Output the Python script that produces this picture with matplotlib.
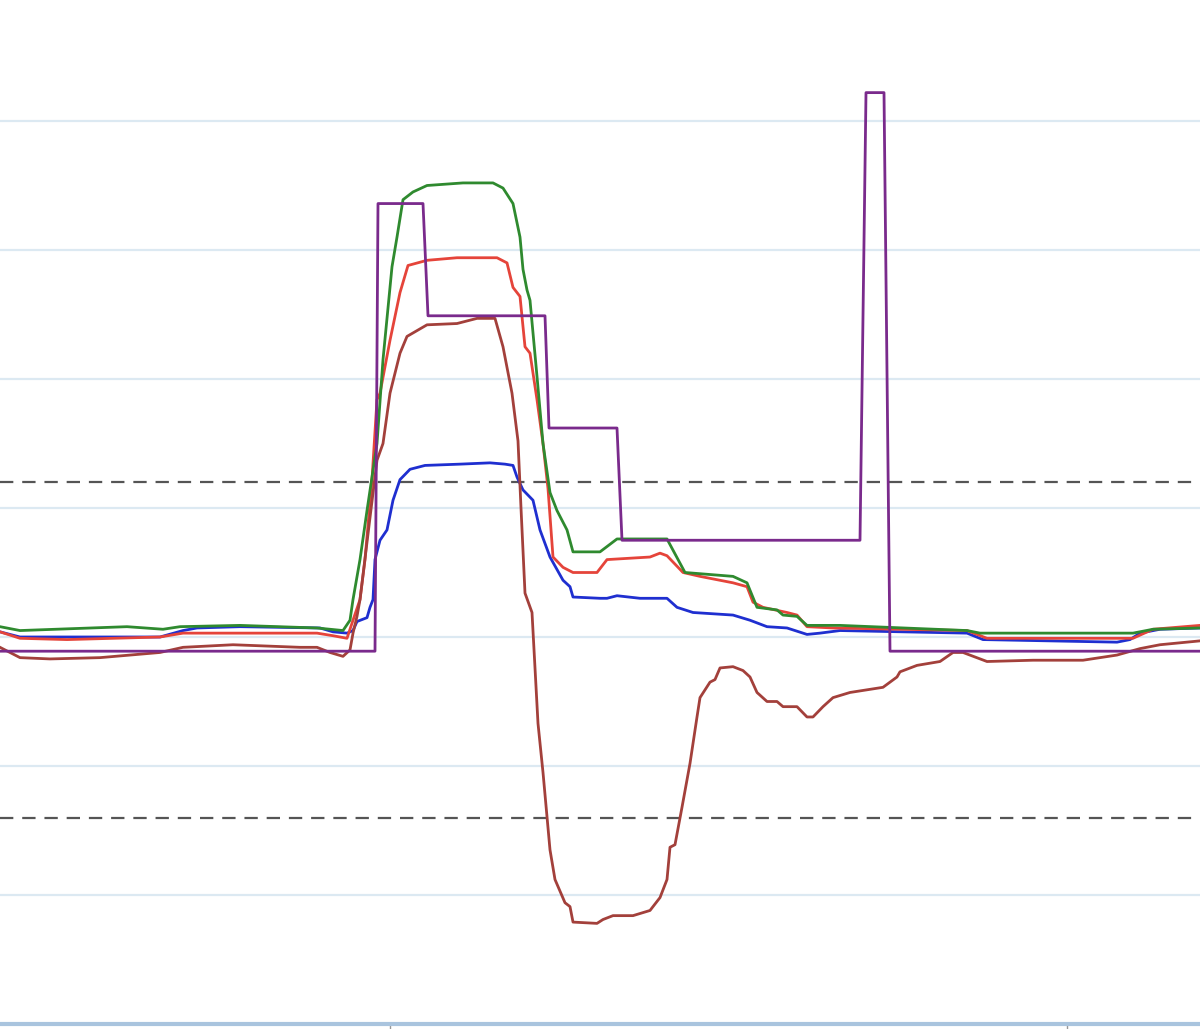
import matplotlib
matplotlib.use("Agg")
import matplotlib.pyplot as plt

# ---- data (time index, signal value in grid units) ----
green_x = [0, 20, 127, 163, 180, 240, 317, 343, 350, 353, 360, 367, 377, 383, 392, 397, 403, 413, 427, 463, 493, 503, 513, 520, 523, 527, 530, 537, 543, 550, 557, 567, 573, 600, 617, 667, 685, 733, 747, 757, 777, 783, 797, 807, 840, 967, 980, 1133, 1153, 1200]
green_y = [0.08, 0.05, 0.08, 0.06, 0.08, 0.09, 0.07, 0.05, 0.13, 0.29, 0.60, 0.98, 1.50, 2.15, 2.87, 3.10, 3.39, 3.45, 3.50, 3.52, 3.52, 3.48, 3.36, 3.10, 2.85, 2.69, 2.61, 2.02, 1.50, 1.12, 0.98, 0.83, 0.66, 0.66, 0.76, 0.76, 0.50, 0.47, 0.42, 0.23, 0.21, 0.17, 0.16, 0.09, 0.09, 0.05, 0.03, 0.03, 0.06, 0.07]

red_x = [0, 20, 67, 160, 183, 233, 317, 333, 347, 353, 360, 365, 372, 377, 380, 390, 400, 408, 427, 457, 497, 507, 513, 520, 525, 530, 537, 543, 548, 553, 563, 573, 597, 607, 650, 660, 667, 683, 700, 733, 747, 753, 763, 787, 797, 807, 833, 967, 987, 1133, 1153, 1200]
red_y = [0.04, -0.01, -0.02, 0.0, 0.03, 0.03, 0.03, 0.01, -0.01, 0.13, 0.29, 0.60, 1.22, 1.84, 1.89, 2.30, 2.67, 2.88, 2.92, 2.94, 2.94, 2.90, 2.71, 2.64, 2.25, 2.20, 1.84, 1.50, 1.15, 0.62, 0.54, 0.50, 0.50, 0.60, 0.62, 0.65, 0.63, 0.50, 0.47, 0.42, 0.39, 0.27, 0.23, 0.19, 0.17, 0.08, 0.07, 0.05, -0.01, -0.01, 0.06, 0.09]

blue_x = [0, 20, 100, 160, 183, 197, 240, 320, 333, 347, 353, 357, 367, 370, 373, 375, 380, 387, 393, 400, 410, 425, 460, 490, 505, 513, 517, 523, 533, 540, 550, 563, 570, 573, 600, 607, 617, 640, 667, 677, 693, 733, 750, 767, 787, 807, 820, 840, 967, 983, 1117, 1130, 1140, 1160, 1200]
blue_y = [0.04, 0.0, 0.0, 0.0, 0.05, 0.07, 0.08, 0.07, 0.04, 0.03, 0.05, 0.12, 0.15, 0.23, 0.29, 0.60, 0.75, 0.83, 1.06, 1.22, 1.30, 1.33, 1.34, 1.35, 1.34, 1.33, 1.24, 1.14, 1.06, 0.83, 0.62, 0.44, 0.39, 0.31, 0.30, 0.30, 0.32, 0.30, 0.30, 0.23, 0.19, 0.17, 0.13, 0.08, 0.07, 0.02, 0.03, 0.05, 0.03, -0.02, -0.04, -0.02, 0.03, 0.06, 0.07]

brown_x = [0, 20, 50, 100, 160, 183, 233, 300, 317, 330, 343, 350, 353, 357, 360, 377, 383, 390, 400, 407, 427, 457, 477, 490, 495, 503, 512, 518, 521, 525, 532, 538, 543, 550, 555, 565, 570, 573, 597, 603, 613, 633, 650, 660, 667, 670, 675, 682, 690, 697, 700, 710, 715, 720, 733, 743, 750, 757, 767, 777, 783, 797, 807, 813, 823, 833, 850, 883, 897, 900, 917, 940, 953, 963, 987, 1033, 1083, 1117, 1140, 1160, 1200]
brown_y = [-0.08, -0.16, -0.17, -0.16, -0.12, -0.08, -0.06, -0.08, -0.08, -0.12, -0.15, -0.10, 0.03, 0.16, 0.29, 1.37, 1.50, 1.89, 2.20, 2.33, 2.42, 2.43, 2.47, 2.47, 2.47, 2.25, 1.89, 1.52, 1.00, 0.34, 0.19, -0.67, -1.05, -1.65, -1.88, -2.06, -2.09, -2.21, -2.22, -2.19, -2.16, -2.16, -2.12, -2.02, -1.88, -1.63, -1.61, -1.32, -0.98, -0.62, -0.47, -0.35, -0.33, -0.24, -0.23, -0.26, -0.31, -0.43, -0.50, -0.50, -0.54, -0.54, -0.62, -0.62, -0.54, -0.47, -0.43, -0.39, -0.31, -0.27, -0.22, -0.19, -0.12, -0.12, -0.19, -0.18, -0.18, -0.14, -0.09, -0.06, -0.03]

purple_x = [0, 375, 378, 423, 428, 545, 549, 617, 622, 860, 866, 884, 890, 1200]
purple_y = [-0.11, -0.11, 3.36, 3.36, 2.49, 2.49, 1.62, 1.62, 0.75, 0.75, 4.22, 4.22, -0.11, -0.11]

thresholds = [1.2, -1.4]
grid_levels = [-2, -1, 0, 1, 2, 3, 4]
x_ticks = [390, 1067]

fig = plt.figure(figsize=(12, 10.29), dpi=100)
ax = fig.add_axes([0, 5 / 1029, 1, 1024 / 1029])
ax.set_xlim(0, 1200)
ax.set_ylim(-3.0, 4.938)

for g in grid_levels:
    ax.axhline(g, color="#dce9f2", lw=1.6, zorder=0)
for t in thresholds:
    ax.axhline(t, color="#555555", lw=1.6, ls=(0, (6, 4)), zorder=1)

lw = 2.0
ax.plot(blue_x, blue_y, color="#1f2fd0", lw=lw, zorder=3)
ax.plot(red_x, red_y, color="#e5443a", lw=lw, zorder=3)
ax.plot(green_x, green_y, color="#2f8a2f", lw=lw, zorder=4)
ax.plot(brown_x, brown_y, color="#a3403b", lw=lw, zorder=4)
ax.plot(purple_x, purple_y, color="#7a2a8c", lw=lw, zorder=5)

for s in ["top", "left", "right"]:
    ax.spines[s].set_visible(False)
ax.spines["bottom"].set_color("#a9c4de")
ax.spines["bottom"].set_linewidth(3)
ax.set_xticks(x_ticks)
ax.set_xticklabels([])
ax.tick_params(axis="x", direction="out", length=4, color="#999999", width=1)
ax.set_yticks([])

fig.savefig("out.png", dpi=100)
